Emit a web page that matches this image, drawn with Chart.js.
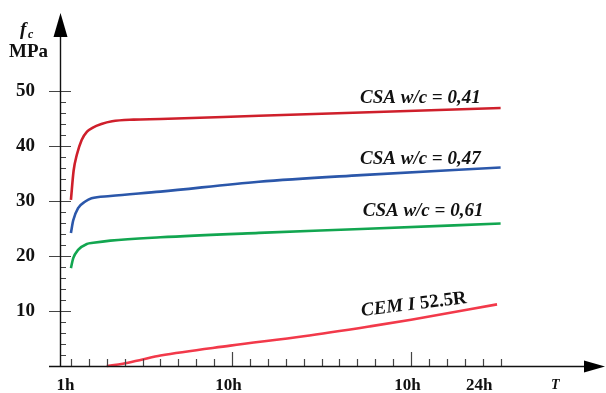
<!DOCTYPE html>
<html>
<head>
<meta charset="utf-8">
<script src="https://cdn.jsdelivr.net/npm/chart.js@4/dist/chart.umd.min.js"></script>
<style>
  html, body { margin: 0; padding: 0; background: #fff; }
  #wrap { width: 606px; height: 393px; position: relative; }
</style>
</head>
<body>
<div id="wrap"><canvas id="chart"></canvas></div>
<script>
// time axis in tick steps (0 = 1h tick), strength in MPa
const csa41T = [0, 0.15, 0.33, 0.6, 0.9, 1.2, 1.7, 2.3, 3.5, 5.0, 10.5, 16.2, 24];
const csa41F = [30.2, 35.5, 38.4, 41.1, 42.6, 43.3, 44.0, 44.5, 44.8, 44.9, 45.5, 46.1, 46.9];

const csa47T = [0, 0.13, 0.4, 0.8, 1.15, 2.2, 5.0, 10.5, 16.2, 24];
const csa47F = [24.2, 26.5, 28.7, 29.9, 30.5, 30.9, 31.7, 33.5, 34.7, 36.1];

const csa61T = [0, 0.13, 0.4, 0.9, 1.25, 2.2, 5.0, 10.5, 16.2, 24];
const csa61F = [17.8, 19.6, 21.1, 22.2, 22.4, 22.8, 23.4, 24.2, 24.9, 25.9];

const cemT = [2.0, 2.9, 4.0, 5.0, 8.9, 13, 16.7, 19, 23.8];
const cemF = [0, 0.4, 1.2, 1.9, 3.7, 5.4, 7.2, 8.4, 11.2];

const xTickLabels = ['1h', '10h', '10h', '24h'];
const xTickAt = [-0.3, 8.8, 18.8, 22.8];
const yTickLabels = [10, 20, 30, 40, 50];

const SERIF = '"Liberation Serif", "DejaVu Serif", serif';

function pts(xs, ys) {
  return xs.map((x, i) => ({ x: x, y: ys[i] }));
}

function line(data, color) {
  return {
    data: data,
    borderColor: color,
    borderWidth: 2.6,
    pointRadius: 0,
    fill: false,
    cubicInterpolationMode: 'monotone',
    clip: false,
  };
}

// axes with arrows, tick marks and the text annotations
const decorations = {
  id: 'decorations',
  afterDraw(chart) {
    const ctx = chart.ctx;
    const xs = chart.scales.x, ys = chart.scales.y;
    const a = chart.chartArea;
    const x0 = a.left, y0 = a.bottom;
    ctx.save();

    // tick marks
    ctx.strokeStyle = '#444';
    ctx.lineWidth = 1.2;
    ctx.beginPath();
    for (let v = 2; v <= 50; v += 2) {
      const py = Math.round(ys.getPixelForValue(v)) + 0.5;
      const major = v % 10 === 0;
      ctx.moveTo(major ? x0 - 11 : x0, py);
      ctx.lineTo(major ? x0 + 11 : x0 + 6, py);
    }
    for (let k = 0; k <= 24; k++) {
      const px = Math.round(xs.getPixelForValue(k)) + 0.5;
      const major = k === 9 || k === 19;
      ctx.moveTo(px, y0);
      ctx.lineTo(px, y0 - (major ? 14 : 7));
    }
    ctx.stroke();

    // axis lines
    ctx.strokeStyle = '#111';
    ctx.lineWidth = 1.4;
    ctx.beginPath();
    ctx.moveTo(x0 + 0.5, a.top + 10);
    ctx.lineTo(x0 + 0.5, y0);
    ctx.moveTo(x0 - 11, y0 + 0.5);
    ctx.lineTo(a.right - 10, y0 + 0.5);
    ctx.stroke();

    // arrow heads
    ctx.fillStyle = '#000';
    ctx.beginPath();
    ctx.moveTo(x0 + 0.5, a.top);
    ctx.lineTo(x0 - 6.5, a.top + 24);
    ctx.lineTo(x0 + 7.5, a.top + 24);
    ctx.closePath();
    ctx.fill();
    ctx.beginPath();
    ctx.moveTo(a.right, y0 + 0.5);
    ctx.lineTo(a.right - 21, y0 - 5.5);
    ctx.lineTo(a.right - 21, y0 + 6.5);
    ctx.closePath();
    ctx.fill();

    // axis titles
    ctx.fillStyle = '#111';
    ctx.textBaseline = 'alphabetic';
    ctx.font = 'italic bold 19px ' + SERIF;
    ctx.fillText('f', 20, 35);
    ctx.font = 'italic bold 12px ' + SERIF;
    ctx.fillText('c', 28, 38);
    ctx.font = 'bold 19px ' + SERIF;
    ctx.fillText('MPa', 9, 57);
    ctx.font = 'italic bold 14px ' + SERIF;
    ctx.fillText('T', 551, 389);

    // curve labels
    ctx.font = 'italic bold 19px ' + SERIF;
    ctx.fillText('CSA w/c = 0,41', xs.getPixelForValue(16.15), ys.getPixelForValue(47.8));
    ctx.fillText('CSA w/c = 0,47', xs.getPixelForValue(16.15), ys.getPixelForValue(36.7));
    ctx.fillText('CSA w/c = 0,61', xs.getPixelForValue(16.3), ys.getPixelForValue(27.3));

    ctx.translate(xs.getPixelForValue(16.25), ys.getPixelForValue(9.1));
    ctx.rotate(-7 * Math.PI / 180);
    ctx.font = 'italic bold 19px ' + SERIF;
    ctx.fillText('CEM I', 0, 0);
    const w = ctx.measureText('CEM I ').width;
    ctx.font = 'bold 19px ' + SERIF;
    ctx.fillText('52.5R', w, 0);

    ctx.restore();
  }
};

new Chart(document.getElementById('chart'), {
  type: 'line',
  data: {
    datasets: [
      line(pts(csa41T, csa41F), '#cf1f2b'),
      line(pts(csa47T, csa47F), '#2b57aa'),
      line(pts(csa61T, csa61F), '#12a650'),
      line(pts(cemT, cemF), '#f2394a'),
    ],
  },
  options: {
    responsive: true,
    maintainAspectRatio: false,
    animation: false,
    layout: { padding: { top: 13, right: 1, left: 0, bottom: 0 } },
    plugins: { legend: { display: false }, tooltip: { enabled: false } },
    scales: {
      x: {
        type: 'linear',
        min: -0.61,
        max: 29.83,
        grid: { display: false },
        border: { display: false },
        afterBuildTicks: (s) => { s.ticks = xTickAt.map(v => ({ value: v })); },
        afterFit: (s) => { s.height = 27; s.paddingLeft = 0; s.paddingRight = 0; },
        ticks: {
          autoSkip: false,
          maxRotation: 0,
          padding: 1,
          color: '#111',
          font: { family: SERIF, size: 17, weight: 'bold' },
          callback: (v, i) => xTickLabels[i],
        },
      },
      y: {
        min: 0,
        max: 64.18,
        grid: { display: false },
        border: { display: false },
        afterBuildTicks: (s) => { s.ticks = yTickLabels.map(v => ({ value: v })); },
        afterFit: (s) => { s.width = 60; s.paddingTop = 0; s.paddingBottom = 0; },
        ticks: {
          padding: 17,
          color: '#111',
          font: { family: SERIF, size: 19, weight: 'bold' },
          callback: (v) => String(v),
        },
      },
    },
  },
  plugins: [decorations],
});
</script>
</body>
</html>
